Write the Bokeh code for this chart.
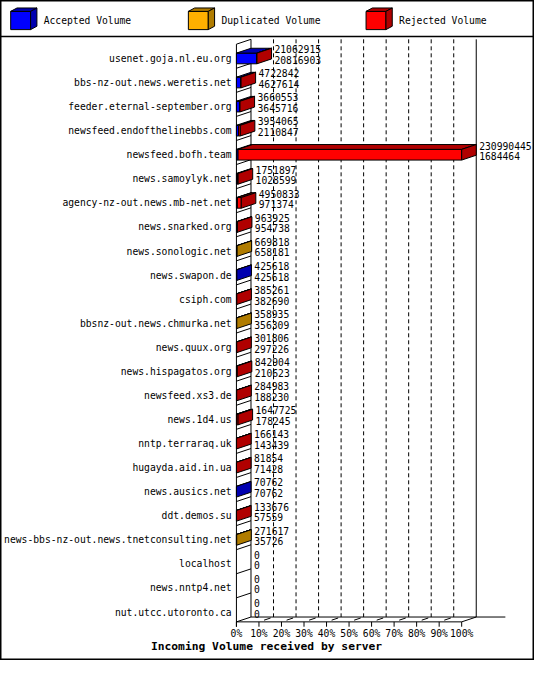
from bokeh.plotting import figure
from bokeh.models import Range1d
from bokeh.embed import file_html
from bokeh.resources import INLINE
from bokeh.core.properties import value

# ---------------- data ----------------
servers = [
    "usenet.goja.nl.eu.org",
    "bbs-nz-out.news.weretis.net",
    "feeder.eternal-september.org",
    "newsfeed.endofthelinebbs.com",
    "newsfeed.bofh.team",
    "news.samoylyk.net",
    "agency-nz-out.news.mb-net.net",
    "news.snarked.org",
    "news.sonologic.net",
    "news.swapon.de",
    "csiph.com",
    "bbsnz-out.news.chmurka.net",
    "news.quux.org",
    "news.hispagatos.org",
    "newsfeed.xs3.de",
    "news.1d4.us",
    "nntp.terraraq.uk",
    "hugayda.aid.in.ua",
    "news.ausics.net",
    "ddt.demos.su",
    "news-bbs-nz-out.news.tnetconsulting.net",
    "localhost",
    "news.nntp4.net",
    "nut.utcc.utoronto.ca",
]
total_volume = [21062915, 4722842, 3660553, 3954065, 230990445, 1751897, 4950833,
                963925, 669818, 425618, 385261, 358935, 301806, 842904, 284983,
                1647725, 166143, 81854, 70762, 133676, 271617, 0, 0, 0]
accepted_volume = [20816903, 4627614, 3645716, 2110847, 1684464, 1028599, 971374,
                   954738, 658181, 425618, 382690, 356309, 297226, 210623, 188230,
                   178245, 143439, 71428, 70762, 57559, 35726, 0, 0, 0]
duplicated_volume = [0, 0, 0, 0, 0, 0, 0, 0, 11637, 0, 0, 2626, 0, 0, 0,
                     0, 0, 0, 0, 0, 235891, 0, 0, 0]
rejected_volume = [246012, 95228, 14837, 1843218, 229305981, 723298, 3979459,
                   9187, 0, 0, 2571, 0, 4580, 632281, 96753,
                   1469480, 22704, 10426, 0, 76117, 0, 0, 0, 0]
tick_values = [0, 10, 20, 30, 40, 50, 60, 70, 80, 90, 100]
tick_labels = ["0%", "10%", "20%", "30%", "40%", "50%", "60%", "70%", "80%", "90%", "100%"]
series_names = ["Accepted Volume", "Duplicated Volume", "Rejected Volume"]
series_colors = ["#0000FF", "#FFB000", "#FF0000"]
series_dark = ["#0000B0", "#B07C00", "#B00000"]
title_text = "Incoming Volume received by server"

# ---------------- layout (reference pixels -> data units) ----------------
W, H = 534, 660
REF_W, REF_H = 550, 680
X0_PX, PX_PER_PCT = 243.0, 2.32
ROW0_PX, ROW_PX = 59.7, 24.8


def px2x(px):
    return (px - X0_PX) / PX_PER_PCT


def py2y(py):
    return (py - ROW0_PX) / ROW_PX


DX = 15 / PX_PER_PCT        # 3D depth, x
DY = -5 / ROW_PX            # 3D depth, y
HH = 5.5 / ROW_PX           # half height of bar front
B0 = py2y(45)               # first row boundary (front)
NROW = len(servers)
YB = B0 + NROW              # front floor line
FONT = value("DejaVu Sans Mono")
FS = "9.7px"

p = figure(width=W, height=H,
           x_range=Range1d(px2x(0), px2x(REF_W)),
           y_range=Range1d(py2y(REF_H), py2y(0)),
           output_backend="svg", toolbar_location=None, min_border=0,
           x_axis_location=None, y_axis_location=None)
p.grid.visible = False
p.background_fill_color = "white"
p.border_fill_color = "white"
p.outline_line_color = "black"
p.outline_line_width = 2

# ---------------- legend ----------------
leg_xs, leg_ys, leg_cols = [], [], []
for j, name in enumerate(series_names):
    l = px2x(10.5 + 183 * j)
    r = px2x(31 + 183 * j)
    t = py2y(11.2)
    b = py2y(30)
    ldx = 6.5 / PX_PER_PCT
    ldy = -3.5 / ROW_PX
    leg_xs += [[l, r, r, l], [l, r, r + ldx, l + ldx], [r, r + ldx, r + ldx, r]]
    leg_ys += [[t, t, b, b], [t, t, t + ldy, t + ldy], [t, t + ldy, b + ldy, b]]
    leg_cols += [series_colors[j], series_dark[j], series_dark[j]]
    p.text(x=[px2x(44.5 + 183 * j)], y=[py2y(21)], text=[name], text_font=FONT,
           text_font_size=FS, text_baseline="middle", text_align="left", text_color="black")
p.patches(xs=leg_xs, ys=leg_ys, fill_color=leg_cols, line_color="black", line_width=1)
p.line(x=[px2x(0), px2x(REF_W)], y=[py2y(37), py2y(37)], line_color="black", line_width=1.5)

# ---------------- chart frame (3D walls) ----------------
lx, ly = [], []
# left wall: front and back vertical lines
lx.append([0, 0]); ly.append([B0, YB + 5 / ROW_PX])
lx.append([DX, DX]); ly.append([B0 + DY, YB + DY])
# back right wall
lx.append([100 + DX, 100 + DX]); ly.append([B0 + DY, YB + DY])
# back floor line
lx.append([DX, 100 + DX + 30 / PX_PER_PCT]); ly.append([YB + DY, YB + DY])
# front floor line + slant at end
lx.append([0, 100, 100 + DX]); ly.append([YB, YB, YB + DY])
# row separators on left wall
for k in range(NROW + 1):
    lx.append([0, DX]); ly.append([B0 + k, B0 + k + DY])
# ticks below front floor and floor slants
for tv in tick_values:
    lx.append([tv, tv]); ly.append([YB, YB + 5 / ROW_PX])
    if 0 < tv < 100:
        lx.append([tv + DX * 0.35, tv + DX * 0.8]); ly.append([YB + DY * 0.35, YB + DY * 0.8])
p.multi_line(xs=lx, ys=ly, line_color="black", line_width=1)

# dashed back grid lines
gx = [[tv + DX, tv + DX] for tv in tick_values if 0 < tv < 100]
gy = [[B0 + DY, YB + DY] for tv in tick_values if 0 < tv < 100]
p.multi_line(xs=gx, ys=gy, line_color="black", line_width=1, line_dash="4 3")

# ---------------- bars ----------------
max_total = max(total_volume)
bx, by, bc = [], [], []
for i in range(NROW):
    if total_volume[i] <= 0:
        continue
    segs = [accepted_volume[i], duplicated_volume[i], rejected_volume[i]]
    cum = 0
    last = 0
    top = i - HH
    bot = i + HH
    for s, v in enumerate(segs):
        if v <= 0:
            continue
        x0 = cum * 100.0 / max_total
        cum += v
        x1 = cum * 100.0 / max_total
        bx.append([x0, x1, x1, x0]); by.append([top, top, bot, bot]); bc.append(series_colors[s])
        bx.append([x0, x1, x1 + DX, x0 + DX]); by.append([top, top, top + DY, top + DY]); bc.append(series_dark[s])
        last = s
    L = cum * 100.0 / max_total
    bx.append([L, L + DX, L + DX, L]); by.append([top, top + DY, bot + DY, bot]); bc.append(series_dark[last])
p.patches(xs=bx, ys=by, fill_color=bc, line_color="black", line_width=1)

# ---------------- value labels ----------------
vx, vy1, vy2, t1, t2 = [], [], [], [], []
for i in range(NROW):
    L = total_volume[i] * 100.0 / max_total
    vx.append(L + DX + 3 / PX_PER_PCT)
    vy1.append(i - 9.5 / ROW_PX)
    vy2.append(i + 1.5 / ROW_PX)
    t1.append(str(total_volume[i]))
    t2.append(str(accepted_volume[i]))
p.text(x=vx, y=vy1, text=t1, text_font=FONT, text_font_size=FS,
       text_baseline="middle", text_align="left", text_color="black")
p.text(x=vx, y=vy2, text=t2, text_font=FONT, text_font_size=FS,
       text_baseline="middle", text_align="left", text_color="black")

# ---------------- category labels ----------------
p.text(x=[px2x(238)] * NROW, y=list(range(NROW)), text=servers, text_font=FONT,
       text_font_size=FS, text_baseline="middle", text_align="right", text_color="black")

# ---------------- x tick labels and title ----------------
p.text(x=tick_values, y=[py2y(652)] * len(tick_values), text=tick_labels, text_font=FONT,
       text_font_size=FS, text_baseline="middle", text_align="center", text_color="black")
p.text(x=[px2x(274)], y=[py2y(666)], text=[title_text], text_font=FONT,
       text_font_size="11.3px", text_font_style="bold", text_baseline="middle",
       text_align="center", text_color="black")

open("out.html", "w").write(file_html(p, INLINE))
